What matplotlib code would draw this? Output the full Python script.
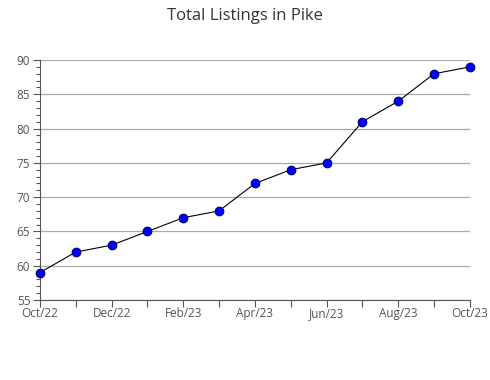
import matplotlib.pyplot as plt
from matplotlib.ticker import MultipleLocator

plt.rcParams['font.family'] = ['Open Sans', 'DejaVu Sans']

meses = ['Oct/22', 'Nov/22', 'Dec/22', 'Jan/23', 'Feb/23', 'Mar/23', 'Apr/23',
         'May/23', 'Jun/23', 'Jul/23', 'Aug/23', 'Sep/23', 'Oct/23']
listados = [59, 62, 63, 65, 67, 68, 72, 74, 75, 81, 84, 88, 89]

fig = plt.figure(figsize=(4.9, 3.8), dpi=100)
ax = fig.add_axes([0.0816, 0.2105, 0.8774, 0.6315])

x = list(range(len(meses)))
ax.plot(x, listados, color='black', lw=0.8, marker='o', markersize=6.2,
        markerfacecolor='#0000ff', markeredgecolor='#000066', markeredgewidth=0.8,
        zorder=3, clip_on=False)

ax.set_xlim(0, len(meses) - 1)
ax.set_ylim(55, 90)
ax.set_xticks(x)
ax.set_xticklabels([m if i % 2 == 0 else '' for i, m in enumerate(meses)])
ax.yaxis.set_major_locator(MultipleLocator(5))
ax.yaxis.set_minor_locator(MultipleLocator(1))

ax.grid(axis='y', which='major', color='#aaaaaa', lw=0.9)
ax.set_axisbelow(True)
for s in ['top', 'right']:
    ax.spines[s].set_visible(False)
for s in ['left', 'bottom']:
    ax.spines[s].set_color('#555555')
ax.tick_params(axis='both', colors='#555555', labelcolor='#555555', labelsize=8.5, length=5, width=0.8)
ax.tick_params(axis='y', which='minor', colors='#555555', length=3, width=0.8)
ax.tick_params(axis='x', pad=0)
ax.tick_params(axis='y', pad=2)

fig.text(0.5, 0.958, 'Total Listings in Pike', ha='center', va='center', fontsize=12, color='#333333')

fig.savefig('out.png', dpi=100)
